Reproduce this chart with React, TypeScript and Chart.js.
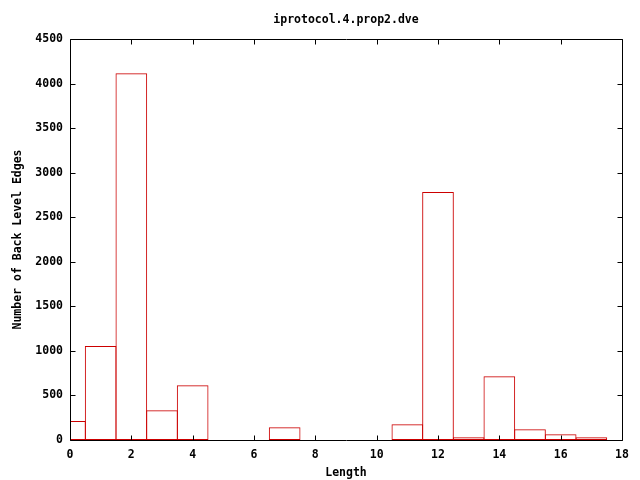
import React, { useEffect, useRef } from "react";
import { Chart, registerables } from "chart.js";

Chart.register(...registerables);

const lengths = [0, 1, 2, 3, 4, 7, 11, 12, 13, 14, 15, 16, 17];
const counts = [213, 1055, 4115, 335, 615, 142, 178, 2783, 30, 716, 120, 64, 30];
const xTicks = [0, 2, 4, 6, 8, 10, 12, 14, 16, 18];
const yTicks = [0, 500, 1000, 1500, 2000, 2500, 3000, 3500, 4000, 4500];
const chartTitle = "iprotocol.4.prop2.dve";

const FONT = "'DejaVu Sans Mono', 'Liberation Mono', monospace";
const FS = 11.5;

const framePlugin = {
  id: "gnuframe",
  afterDatasetsDraw(chart: any) {
    const { ctx, chartArea: a, scales } = chart;
    const x = scales.x;
    const y = scales.y;
    const L = 5;
    ctx.save();
    ctx.strokeStyle = "#000";
    ctx.lineWidth = 1;
    ctx.beginPath();
    const left = Math.round(a.left) + 0.5;
    const right = Math.round(a.right) + 0.5;
    const top = Math.round(a.top) + 0.5;
    const bottom = Math.round(a.bottom) + 0.5;
    ctx.rect(left, top, right - left, bottom - top);
    for (const v of xTicks) {
      const px = Math.round(x.getPixelForValue(v)) + 0.5;
      ctx.moveTo(px, bottom);
      ctx.lineTo(px, bottom - L);
      ctx.moveTo(px, top);
      ctx.lineTo(px, top + L);
    }
    for (const v of yTicks) {
      const py = Math.round(y.getPixelForValue(v)) + 0.5;
      ctx.moveTo(left, py);
      ctx.lineTo(left + L, py);
      ctx.moveTo(right, py);
      ctx.lineTo(right - L, py);
    }
    ctx.stroke();
    ctx.restore();
  },
};

export default function App() {
  const ref = useRef<HTMLCanvasElement | null>(null);
  useEffect(() => {
    if (!ref.current) return;
    const font = { family: FONT, size: FS, weight: "bold" as const };
    const chart = new Chart(ref.current, {
      type: "bar",
      data: {
        datasets: [
          {
            data: lengths.map((l, i) => ({ x: l, y: counts[i] })),
            backgroundColor: "rgba(0,0,0,0)",
            borderColor: "#cc0000",
            borderWidth: 1,
            borderSkipped: false,
            barPercentage: 1.033,
            categoryPercentage: 1,
            inflateAmount: 0,
          } as any,
        ],
      },
      options: {
        animation: false,
        responsive: false,
        layout: { padding: { left: 0, right: 18, top: 0, bottom: 0 } },
        plugins: {
          legend: { display: false },
          tooltip: { enabled: false },
          title: { display: false },
        },
        scales: {
          x: {
            type: "linear",
            min: 0,
            max: 18,
            offset: false,
            grid: { display: false, drawTicks: false },
            border: { display: false },
            afterBuildTicks: (s: any) => {
              s.ticks = xTicks.map((v) => ({ value: v }));
            },
            afterFit: (s: any) => {
              s.height = 40;
            },
            ticks: {
              color: "#000",
              font,
              padding: 8,
              maxRotation: 0,
              autoSkip: false,
              callback: (v: any) => String(v),
            },
            title: {
              display: true,
              text: "Length",
              color: "#000",
              font,
              padding: { top: 0, bottom: 0 },
            },
          },
          xTop: {
            type: "linear",
            position: "top",
            display: true,
            min: 0,
            max: 18,
            grid: { display: false, drawTicks: false },
            border: { display: false },
            ticks: { display: false },
            afterFit: (s: any) => {
              s.height = 39;
            },
            title: {
              display: true,
              text: chartTitle,
              color: "#000",
              font,
              padding: { top: 13, bottom: 0 },
            },
          },
          y: {
            type: "linear",
            min: 0,
            max: 4500,
            grid: { display: false, drawTicks: false },
            border: { display: false },
            afterBuildTicks: (s: any) => {
              s.ticks = yTicks.map((v) => ({ value: v }));
            },
            afterFit: (s: any) => {
              s.width = 70;
            },
            ticks: {
              color: "#000",
              font,
              padding: 7,
              autoSkip: false,
              callback: (v: any) => String(v),
            },
            title: {
              display: true,
              text: "Number of Back Level Edges",
              color: "#000",
              font,
              padding: { top: 11, bottom: 0 },
            },
          },
        },
      },
      plugins: [framePlugin],
    });
    return () => chart.destroy();
  }, []);
  return (
    <div style={{ position: "absolute", left: 0, top: 0, width: 640, height: 480, background: "#fff" }}>
      <canvas ref={ref} width={640} height={480} style={{ width: 640, height: 480 }} />
    </div>
  );
}
